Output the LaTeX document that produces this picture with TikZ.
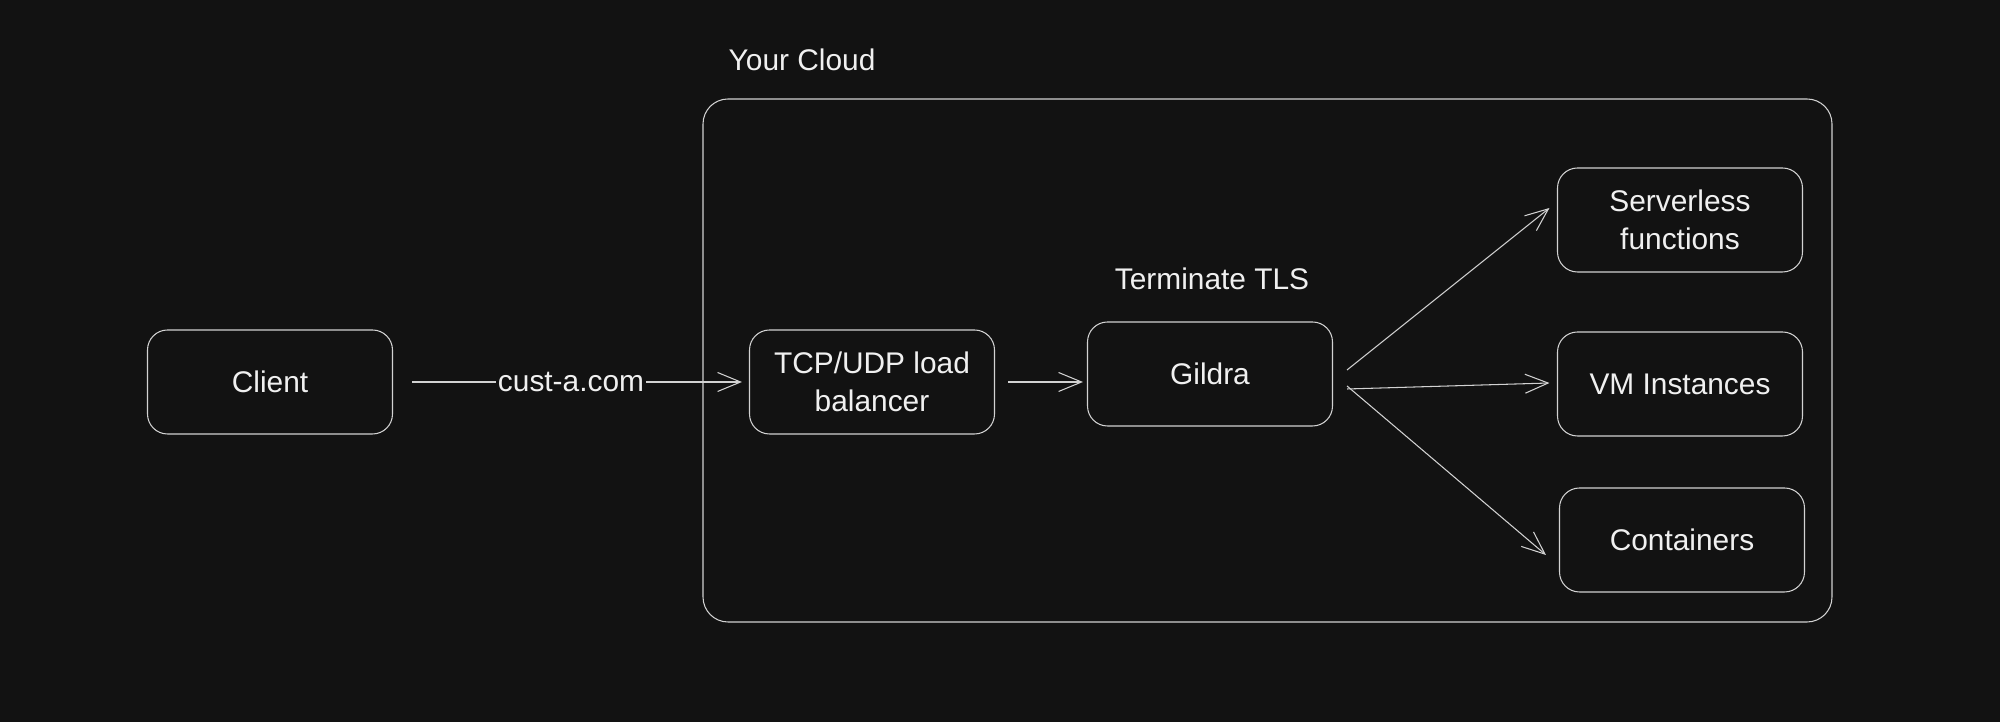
\documentclass[tikz,border=0pt]{standalone}
\usepackage{fontspec}
\setmainfont{Liberation Sans}
\usepackage{tikz}
\usetikzlibrary{arrows.meta}

\definecolor{bgc}{HTML}{121212}
\definecolor{linec}{HTML}{D2D2D2}
\definecolor{txtc}{HTML}{F0F0F0}

\begin{document}
\begin{tikzpicture}[
		box/.style={draw=linec,line width=0.6pt,rounded corners=0.4cm,minimum width=4.9cm,minimum height=2.08cm,align=center,text=txtc,font=\fontsize{17}{21.5}\selectfont},
		lbl/.style={text=txtc,font=\fontsize{17}{21.5}\selectfont},
		arr/.style={draw=linec,line width=0.6pt,-{Straight Barb[length=4.6mm,width=3.8mm,line width=0.6pt]}}
	]
			% Background
			\fill[bgc] (0,0) rectangle (40,14.44);
			\useasboundingbox (0,0) rectangle (40,14.44);
			
			% Cloud frame
			\node[draw=linec,line width=0.6pt,rounded corners=0.5cm,minimum width=22.58cm,minimum height=10.46cm] (cloud) at (25.35,7.23) {};
			\node[lbl,anchor=west] (cloudlbl) at (14.45,13.24) {Your Cloud};
			
			% Boxes
			\node[box] (client) at (5.4,6.8) {Client};
			\node[box] (lb) at (17.44,6.8) {TCP/UDP load\\balancer};
			\node[box] (gildra) at (24.2,6.96) {Gildra};
			\node[lbl] (tls) at (24.24,8.86) {Terminate TLS};
			\node[box] (serverless) at (33.6,10.04) {Serverless\\functions};
			\node[box] (vm) at (33.6,6.76) {VM Instances};
			\node[box] (containers) at (33.64,3.64) {Containers};
			
			% Arrows
			\draw[arr,shorten <=0.38cm,shorten >=0.14cm] (client) -- node[lbl,fill=bgc,inner sep=1pt] (domain) {cust-a.com} (lb);
			\draw[arr,shorten <=0.26cm,shorten >=0.08cm] (lb.east) -- (lb.east -| gildra.west);
			
			% Fan out to the workloads
			\draw[arr] ([shift={(0.28,0.08)}]gildra.east) -- ([shift={(-0.15,0.24)}]serverless.west);
			\draw[arr] ([shift={(0.28,-0.3)}]gildra.east) -- ([shift={(-0.15,0.02)}]vm.west);
			\draw[arr] ([shift={(0.28,-0.24)}]gildra.east) -- ([shift={(-0.26,-0.3)}]containers.west);
		\end{tikzpicture}
\end{document}
